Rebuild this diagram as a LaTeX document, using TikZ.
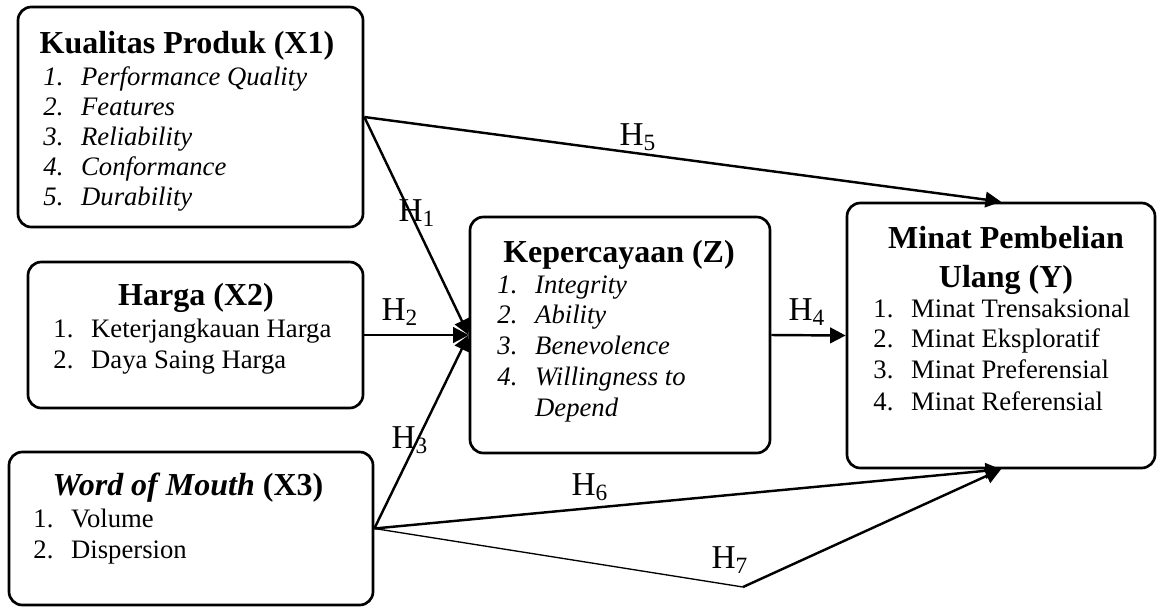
\documentclass[tikz,border=0pt]{standalone}
\usepackage{fontspec}
\setmainfont{Liberation Serif}
\usetikzlibrary{arrows.meta,fit}
\newcommand\li[2]{\makebox[17pt][l]{#1}#2}
\tikzset{
 box/.style={draw, line width=1.2pt, rounded corners=6pt, inner sep=0pt},
 ttl/.style={font=\fontsize{14.4}{16.6}\selectfont\bfseries, anchor=base, inner sep=0pt},
 itm/.style={font=\fontsize{12}{14}\selectfont, anchor=base west, inner sep=0pt},
 hyp/.style={font=\fontsize{15}{17}\selectfont, inner sep=0pt},
 conn/.style={line width=1.1pt, -{Triangle[length=7pt,width=7pt]}},
 thinline/.style={line width=0.6pt},
}
\begin{document}
\begin{tikzpicture}[x=0.45pt,y=-0.45pt]
\useasboundingbox (0,0) rectangle (1157,607);
% boxes
\node[box, fit={(18,7) (363,227)}] (x1) {};
\node[box, fit={(28,262) (363,408)}] (x2) {};
\node[box, fit={(9,452) (373,605)}] (x3) {};
\node[box, fit={(470,217) (770,453)}] (nz) {};
\node[box, fit={(847,203) (1155,468)}] (ny) {};
% X1
\node[ttl] (x1t) at (187,53) {Kualitas Produk (X1)};
\node[itm] (x1a) at (43,85) {\itshape\li{1.}{Performance Quality}};
\node[itm] (x1b) at (43,115) {\itshape\li{2.}{Features}};
\node[itm] (x1c) at (43,145) {\itshape\li{3.}{Reliability}};
\node[itm] (x1d) at (43,175) {\itshape\li{4.}{Conformance}};
\node[itm] (x1e) at (43,205) {\itshape\li{5.}{Durability}};
% X2
\node[ttl] (x2t) at (196,305) {Harga (X2)};
\node[itm] (x2a) at (53,337) {\li{1.}{Keterjangkauan Harga}};
\node[itm] (x2b) at (53,368) {\li{2.}{Daya Saing Harga}};
% X3
\node[ttl] (x3t) at (188,495) {\textit{Word of Mouth} (X3)};
\node[itm] (x3a) at (33,527) {\li{1.}{Volume}};
\node[itm] (x3b) at (33,558) {\li{2.}{Dispersion}};
% Z
\node[ttl] (nzt) at (619,262) {Kepercayaan (Z)};
\node[itm] (nza) at (497,293) {\itshape\li{1.}{Integrity}};
\node[itm] (nzb) at (497,323) {\itshape\li{2.}{Ability}};
\node[itm] (nzc) at (497,354) {\itshape\li{3.}{Benevolence}};
\node[itm] (nzd) at (497,385) {\itshape\li{4.}{Willingness to}};
\node[itm] (nze) at (497,416) {\itshape\li{}{Depend}};
% Y
\node[ttl] (nyt1) at (1006,248) {Minat Pembelian};
\node[ttl] (nyt2) at (1006,287) {Ulang (Y)};
\node[itm] (nya) at (873,317) {\li{1.}{Minat Trensaksional}};
\node[itm] (nyb) at (873,347) {\li{2.}{Minat Eksploratif}};
\node[itm] (nyc) at (873,378) {\li{3.}{Minat Preferensial}};
\node[itm] (nyd) at (873,410) {\li{4.}{Minat Referensial}};
% connectors
\coordinate (h7b) at (743,587);
\draw[conn] (x1.east) -- (ny.north);
\draw[conn] (x1.east) -- (nz.west);
\draw[conn] (x2.east) -- (nz.west);
\draw[conn] (x3.east) -- (nz.west);
\draw[conn] (nz.east) -- (ny.west);
\draw[conn] (x3.east) -- (ny.south);
\draw[thinline] (x3.east) -- (h7b);
\draw[conn] (h7b) -- (ny.south);
% labels
\node[hyp] (h1) at (417,213) {H\textsubscript{1}};
\node[hyp] (h2) at (400,312) {H\textsubscript{2}};
\node[hyp] (h3) at (410,440) {H\textsubscript{3}};
\node[hyp] (h4) at (807,312) {H\textsubscript{4}};
\node[hyp] (h5) at (638,137) {H\textsubscript{5}};
\node[hyp] (h6) at (590,487) {H\textsubscript{6}};
\node[hyp] (h7) at (730,560) {H\textsubscript{7}};
\end{tikzpicture}
\end{document}
